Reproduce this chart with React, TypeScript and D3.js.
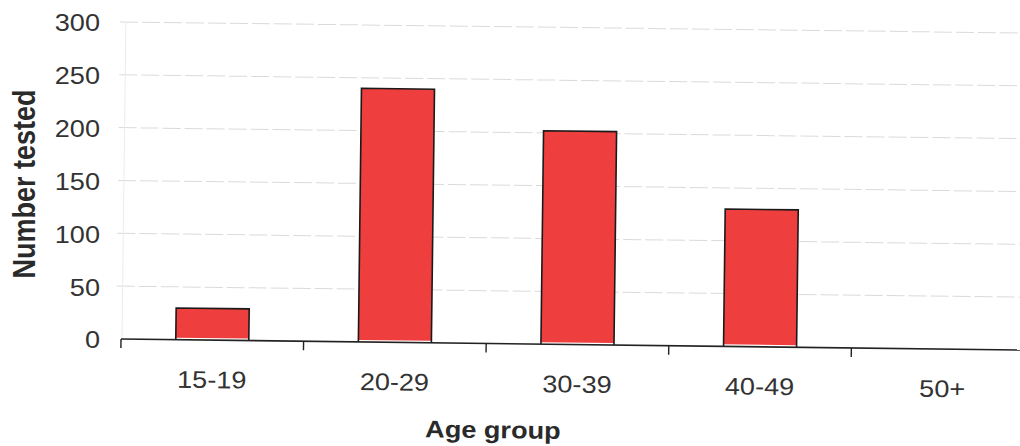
import React from 'react';
import * as d3 from 'd3';

const categories: string[] = ['15-19', '20-29', '30-39', '40-49', '50+'];
const values: number[] = [30, 240, 202, 130, 0];
const yTicks: number[] = [0, 50, 100, 150, 200, 250, 300];
const xTitle = 'Age group';
const yTitle = 'Number tested';

export default function App() {
  const W = 1020, H = 446;
  const x0 = 121, y0 = 339;
  const x = d3.scaleBand<string>().domain(categories).range([121, 1034]).padding(0);
  const y = d3.scaleLinear().domain([0, 300]).range([339, 22]);
  const bw = x.bandwidth();
  const barW = bw * 0.4;
  const font = "'Liberation Sans', Arial, Helvetica, sans-serif";
  const sx = 1.13;
  const boundaries = [...categories.map((c) => x(c) as number), 1034];
  return (
    <svg width={W} height={H} style={{ position: 'absolute', left: 0, top: 0 }} fontFamily={font}>
      <rect width={W} height={H} fill="#ffffff" />
      {yTicks.map((t) => (
        <text key={'yl' + t} transform={`translate(100,${y(t) + 1}) scale(${sx},1)`} textAnchor="end" dominantBaseline="central" fontSize={24} fill="#333">
          {t}
        </text>
      ))}
      <text transform={`translate(24,184) scale(${sx},1) rotate(-90)`} textAnchor="middle" dominantBaseline="central" fontSize={27} fontWeight="bold" fill="#2a2a2a">
        {yTitle}
      </text>
      <g transform={`rotate(0.7 ${x0} ${y0})`}>
        {yTicks.filter((t) => t > 0).map((t) => (
          <line key={'g' + t} x1={116} x2={1045} y1={y(t)} y2={y(t)} stroke="#dadada" strokeWidth={1} strokeDasharray="18 4" />
        ))}
        <line x1={122} x2={122} y1={y(300)} y2={y0} stroke="#ececec" strokeWidth={1} />
        {categories.map((c, i) => {
          const v = values[i];
          if (v <= 0) return null;
          const bx = (x(c) as number) + (bw - barW) / 2;
          const top = y(v);
          const bottom = y(0) - 2;
          return (
            <g key={'b' + c}>
              <rect x={bx} y={top} width={barW} height={bottom - top} fill="#ef3e3e" />
              <path d={`M${bx},${bottom + 2} L${bx},${top} L${bx + barW},${top} L${bx + barW},${bottom + 2}`} fill="none" stroke="#1a1a1a" strokeWidth={1.6} />
            </g>
          );
        })}
        <line x1={x0} x2={1045} y1={y0} y2={y0} stroke="#222" strokeWidth={1.6} />
        {boundaries.map((bx, i) => (
          <line key={'t' + i} x1={bx} x2={bx} y1={y0} y2={y0 + 9} stroke="#222" strokeWidth={1.4} />
        ))}
        {categories.map((c) => (
          <text key={'xl' + c} transform={`translate(${(x(c) as number) + bw / 2},${y0 + 48}) scale(${sx},1)`} textAnchor="middle" fontSize={24} fill="#333">
            {c}
          </text>
        ))}
        <text transform={`translate(494,433.5) scale(${sx},1)`} textAnchor="middle" fontSize={24} fontWeight="bold" fill="#2a2a2a">
          {xTitle}
        </text>
      </g>
    </svg>
  );
}
